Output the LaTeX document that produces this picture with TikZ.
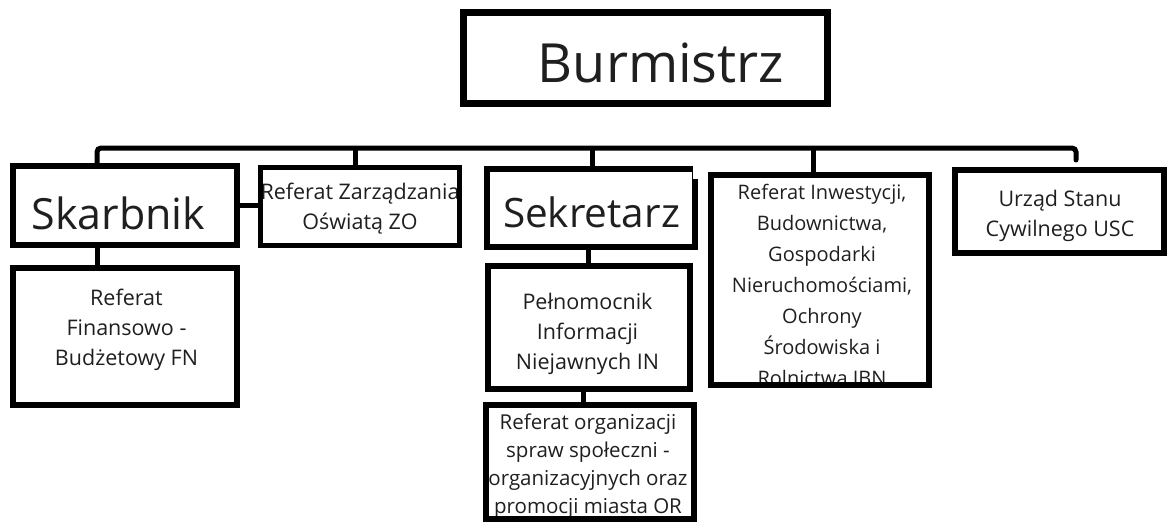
\documentclass[tikz,border=0pt]{standalone}
\usepackage{fontspec}
\setmainfont{Open Sans}
\begin{document}
\begin{tikzpicture}[x=1pt,y=-1pt,
  box/.style={draw, line width=6pt, inner sep=0pt, outer sep=0pt, rectangle},
  conn/.style={line width=5pt},
  lbl/.style={align=center, inner sep=0pt, text=black!88},
  small/.style={lbl, font=\fontsize{21.5}{30}\selectfont},
  big/.style={lbl, font=\fontsize{42}{50}\selectfont}]
\useasboundingbox (0,0) rectangle (1168,522);
% texts
\node[lbl, font=\fontsize{54}{60}\selectfont] (tbur) at (661,63) {Burmistrz};
\node[big, font=\fontsize{43}{50}\selectfont] (tskar) at (118.5,213) {Skarbnik};
\node[big, font=\fontsize{40.5}{50}\selectfont] (tsek) at (591.5,212) {Sekretarz};
\node[small] (tzo) at (360,209) {Referat Zarządzania\\Oświatą ZO};
\node[small] (tusc) at (1060,216) {Urząd Stanu\\Cywilnego USC};
\node[small, font=\fontsize{20}{31}\selectfont] (tinw) at (822,285) {Referat Inwestycji,\\Budownictwa,\\Gospodarki\\Nieruchomościami,\\Ochrony\\Środowiska i\\Rolnictwa IBN};
\node[small] (tfin) at (126.5,330) {Referat\\Finansowo -\\Budżetowy FN};
\node[small] (tpel) at (587.5,334) {Pełnomocnik\\Informacji\\Niejawnych IN};
\node[small, font=\fontsize{20.5}{28}\selectfont] (torg) at (588,466) {Referat organizacji\\spraw społeczni -\\organizacyjnych oraz\\promocji miasta OR};
% boxes
\node[box, line width=7pt, minimum width=364pt, minimum height=91pt] (bur) at (645,57.5) {};
\node[box, minimum width=224pt, minimum height=79pt] (skar) at (125,205.5) {};
\node[box, line width=5pt, minimum width=199pt, minimum height=78pt] (zo) at (360,206.5) {};
\node[box, minimum width=208pt, minimum height=78pt] (sek) at (591,208) {};
\node[box, minimum width=218pt, minimum height=210pt] (inw) at (820,280) {};
\node[box, minimum width=209pt, minimum height=83pt] (usc) at (1059.5,211.5) {};
\node[box, minimum width=224pt, minimum height=137pt] (fin) at (125,336.5) {};
\node[box, minimum width=202pt, minimum height=123pt] (pel) at (589,327.5) {};
\node[box, minimum width=208pt, minimum height=114pt] (org) at (590,462) {};
% odd corner of the Sekretarz box
\fill[white] (692.5,163) rectangle (699,179);
% bus
\coordinate (busL) at (97,148);
\coordinate (busR) at (1076,148);
\coordinate (uscEnd) at (1076,160);
\coordinate (dzo) at (355,148);
\coordinate (dsek) at (592,148);
\coordinate (dinw) at (813,148);
\draw[conn, rounded corners=4pt, line cap=round] (busL |- skar.north) -- (busL) -- (busR) -- (uscEnd);
\draw[conn] (dzo) -- (dzo |- zo.north);
\draw[conn] (dsek) -- (dsek |- sek.north);
\draw[conn] (dinw) -- (dinw |- inw.north);
% sub connectors
\draw[conn] (skar.east) -- (skar.east -| zo.west);
\draw[conn] (busL |- skar.south) -- (busL |- fin.north);
\coordinate (dpel) at (588,250);
\draw[conn] (dpel |- sek.south) -- (dpel |- pel.north);
\coordinate (dorg) at (583,392);
\draw[conn] (dorg |- pel.south) -- (dorg |- org.north);
\end{tikzpicture}
\end{document}
